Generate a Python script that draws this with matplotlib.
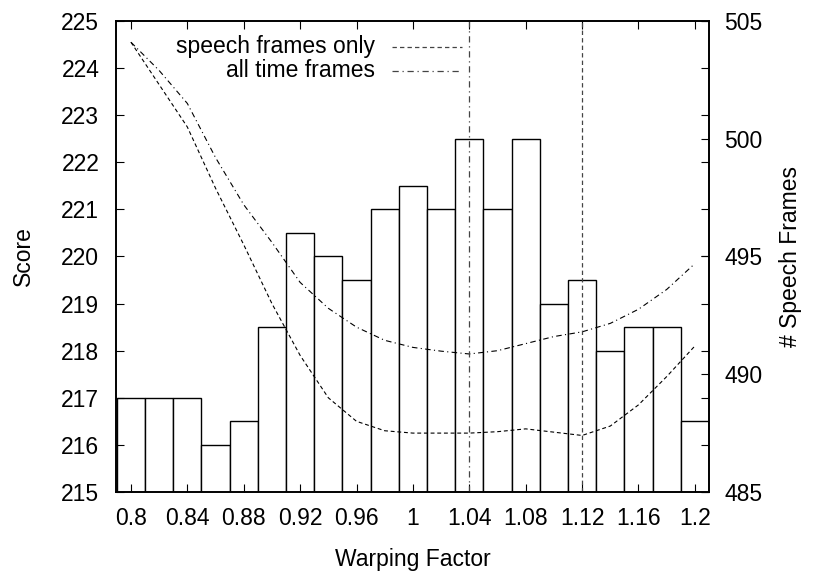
import numpy as np
from matplotlib import pyplot as plt

plt.rcParams['font.family'] = ['Liberation Sans', 'DejaVu Sans']
plt.rcParams['font.size'] = 16.5

# warping factors (one bar / one curve point each)
warp = [0.80, 0.82, 0.84, 0.86, 0.88, 0.90, 0.92, 0.94, 0.96, 0.98, 1.00,
        1.02, 1.04, 1.06, 1.08, 1.10, 1.12, 1.14, 1.16, 1.18, 1.20]

# number of speech frames (right axis, bars)
speech_frames = [489, 489, 489, 487, 488, 492, 496, 495, 494, 497, 498,
                 497, 500, 497, 500, 493, 494, 491, 492, 492, 488]

# score, speech frames only (dashed)
score_speech = [224.55, 223.65, 222.75, 221.45, 220.25, 219.0, 217.9, 217.0,
                216.5, 216.3, 216.25, 216.25, 216.25, 216.28, 216.34, 216.27,
                216.2, 216.4, 216.85, 217.45, 218.1]

# score, all time frames (dash-dot)
score_all = [224.55, 223.95, 223.25, 222.1, 221.1, 220.3, 219.45, 218.9,
             218.5, 218.22, 218.07, 217.99, 217.93, 218.0, 218.15, 218.3,
             218.4, 218.58, 218.88, 219.3, 219.85]

best_all = 1.04
best_speech = 1.12

fig = plt.figure(figsize=(8.14, 5.71), dpi=100)
ax = fig.add_axes([0.1425, 0.1384, 0.7285, 0.8248])
ax2 = ax.twinx()
ax.set_zorder(ax2.get_zorder() + 1)
ax.patch.set_visible(False)

# histogram of speech frames
ax2.bar(warp, speech_frames, width=0.02, color='white', edgecolor='black',
        linewidth=1.0)
ax2.set_ylim(485, 505)
ax2.set_yticks([485, 490, 495, 500, 505])
ax2.set_ylabel('# Speech Frames', labelpad=12)
ax2.tick_params(axis='y', direction='in', length=6, pad=11)

# score curves
dash = (0, (3.5, 2.5))
dashdot = (0, (5, 3, 1, 3))
ax.plot(warp, score_speech, color='black', lw=0.8, ls=dash)
ax.plot(warp, score_all, color='black', lw=0.8, ls=dashdot)
ax.axvline(best_all, color='#444444', lw=0.9, ls=dashdot)
ax.axvline(best_speech, color='#444444', lw=0.9, ls=dash)

ax.set_xlim(0.7894, 1.21)
ax.set_ylim(215, 225)
ax.set_xticks(np.arange(0.80, 1.201, 0.04))
ax.set_xticklabels(['0.8', '0.84', '0.88', '0.92', '0.96', '1', '1.04',
                    '1.08', '1.12', '1.16', '1.2'])
ax.set_yticks(np.arange(215, 226, 1))
ax.tick_params(direction='in', length=6, top=True, right=True)
ax.tick_params(axis='x', pad=11)
ax.tick_params(axis='y', pad=12)
ax.set_xlabel('Warping Factor', labelpad=13)
ax.set_ylabel('Score', labelpad=19)
for a in (ax, ax2):
    for s in a.spines.values():
        s.set_linewidth(1.2)

# key in gnuplot style: text first, sample after
keys = [('speech frames only', dash), ('all time frames', dashdot)]
for i, (lab, st) in enumerate(keys):
    yk = 0.945 - i * 0.051
    ax.text(0.437, yk, lab, transform=ax.transAxes, ha='right', va='center')
    ax.plot([0.466, 0.584], [yk, yk], transform=ax.transAxes,
            color='#444444', lw=0.9, ls=st)

plt.savefig('out.png', dpi=100)
